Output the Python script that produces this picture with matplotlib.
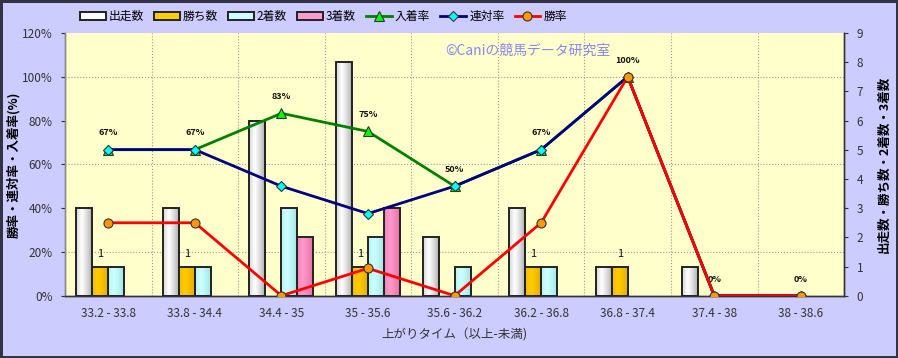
"""上がりタイム別の成績 (出走数・着数の棒グラフと勝率・連対率・入着率の折れ線)
"""
import numpy as np
import matplotlib
matplotlib.use('Agg')
import matplotlib.pyplot as plt
import matplotlib.patches as mpatches
from matplotlib.colors import to_rgb

plt.rcParams['font.family'] = ['Noto Sans CJK JP', 'DejaVu Sans']

categories = ['33.2 - 33.8', '33.8 - 34.4', '34.4 - 35', '35 - 35.6', '35.6 - 36.2',
              '36.2 - 36.8', '36.8 - 37.4', '37.4 - 38', '38 - 38.6']
runs = [3, 3, 6, 8, 2, 3, 1, 1, 0]
wins = [1, 1, 0, 1, 0, 1, 1, 0, 0]
seconds = [1, 1, 3, 2, 1, 1, 0, 0, 0]
thirds = [0, 0, 2, 3, 0, 0, 0, 0, 0]
win_rate = [33.3, 33.3, 0, 12.5, 0, 33.3, 100, 0, 0]
rentai_rate = [66.7, 66.7, 50, 37.5, 50, 66.7, 100, 0, 0]
place_rate = [66.7, 66.7, 83.3, 75, 50, 66.7, 100, 0, 0]
place_labels = ['67%', '67%', '83%', '75%', '50%', '67%', '100%', '0%', '0%']

BG = '#CCCCFF'
PLOT_BG = '#FFFFCC'


def gradient_bar(ax, bar, c_edge, c_mid):
    # 円柱風のグラデーション
    x, y = bar.get_xy()
    w, h = bar.get_width(), bar.get_height()
    if h <= 0:
        bar.set_linewidth(0)
        return
    t = np.linspace(0, 1, 64)
    prof = np.clip(1 - np.abs(t - 0.35) / 0.65, 0, 1) ** 0.7
    e = np.array(to_rgb(c_edge))
    m = np.array(to_rgb(c_mid))
    cols = e + (m - e) * prof[:, None]
    im = ax.imshow(cols[None, :, :], extent=(x, x + w, y, y + h), aspect='auto',
                   interpolation='bilinear', zorder=2)
    im.set_clip_path(bar)


fig = plt.figure(figsize=(8.98, 3.58), dpi=100)
fig.patch.set_facecolor(BG)
fig.patch.set_edgecolor('#333344')
fig.patch.set_linewidth(2.5)

ax = fig.add_axes([0.0724, 0.174, 0.8676, 0.734])
ax.set_facecolor(PLOT_BG)
ax2 = ax.twinx()

x = np.arange(len(categories))
bw = 0.185
series = [
    ('出走数', runs, '#999999', '#FFFFFF', -1.5),
    ('勝ち数', wins, '#D9A400', '#FFCC00', -0.5),
    ('2着数', seconds, '#99DDDD', '#CCFFFF', 0.5),
    ('3着数', thirds, '#DD6699', '#FF99CC', 1.5),
]
handles = []
for name, vals, ce, cm, off in series:
    bars = ax.bar(x + off * bw, vals, bw, color='none', edgecolor='#222222',
                  linewidth=1.4, zorder=3)
    for b in bars:
        gradient_bar(ax, b, ce, cm)
    handles.append(mpatches.Patch(facecolor=cm, edgecolor='#222222', linewidth=1.4,
                                  label=name))

# 勝ち数のラベル
for xi, v in zip(x, wins):
    if v > 0:
        ax.annotate(str(v), (xi - 0.5 * bw, v), xytext=(0, 9), textcoords='offset points',
                    ha='center', va='center', fontsize=8, color='#111111')

ax.set_xlim(-0.5, len(categories) - 0.5)
ax.set_ylim(0, 9)
ax.yaxis.tick_right()
ax.yaxis.set_label_position('right')
ax.set_yticks(range(10))
ax.set_yticks(np.arange(0, 9.1, 1.5), minor=True)
ax.set_xticks(x)
ax.set_xticklabels(categories)
ax.set_xticks(np.arange(0.5, len(categories) - 0.5, 1), minor=True)
ax.grid(which='minor', ls=':', color='#999999', lw=0.8, zorder=0)
ax.tick_params(axis='x', which='both', length=0, labelsize=8.5, colors='#333333', pad=8)
ax.tick_params(axis='y', which='minor', length=0)
ax.tick_params(axis='y', which='major', length=3, direction='out', labelsize=8.5,
               colors='#333333', pad=6)
ax.set_ylabel('出走数・勝ち数・2着数・3着数', fontsize=9, fontweight='bold', labelpad=10,
              rotation=90)
ax.set_xlabel('上がりタイム（以上-未満)', fontsize=9, color='#333333', labelpad=6)

# 折れ線
lines_spec = [
    ('入着率', place_rate, '#008000', '^', '#00FF00', 7),
    ('連対率', rentai_rate, '#000080', 'D', '#00FFFF', 5),
    ('勝率', win_rate, '#FF0000', 'o', '#FF9900', 6.5),
]
for name, vals, lc, mk, mc, ms in lines_spec:
    ln, = ax2.plot(x, vals, color=lc, lw=2, marker=mk, markersize=ms,
                   markerfacecolor=mc, markeredgecolor='#333333', markeredgewidth=0.8,
                   label=name, zorder=4)
    handles.append(ln)

for xi, v, lab in zip(x, place_rate, place_labels):
    ax2.annotate(lab, (xi, v), xytext=(0, 12), textcoords='offset points',
                 ha='center', va='center', fontsize=6.5, fontweight='bold', color='#111111')

ax2.yaxis.tick_left()
ax2.yaxis.set_label_position('left')
ax2.set_ylim(0, 120)
ax2.set_yticks(range(0, 121, 20))
ax2.set_yticklabels([f'{v}%' for v in range(0, 121, 20)])
ax2.tick_params(axis='y', length=3, direction='out', labelsize=8.5, colors='#333333', pad=6)
ax2.set_ylabel('勝率・連対率・入着率(%)', fontsize=9, fontweight='bold')
ax2.yaxis.set_label_coords(-0.058, 0.5)

for a in (ax, ax2):
    for s in a.spines.values():
        s.set_color('#333333')
        s.set_linewidth(1)
    a.spines['top'].set_visible(False)
ax.spines['left'].set_color('#888888')
ax2.spines['left'].set_color('#888888')

ax.text(0.488, 0.931, '©Caniの競馬データ研究室', transform=ax.transAxes, fontsize=10,
        color='#8888EE', ha='left', va='center', zorder=6)

fig.legend(handles=handles, loc='center', bbox_to_anchor=(0.36, 0.953), ncol=7,
           frameon=False, fontsize=8.5, handlelength=2.2, handletextpad=0.25,
           columnspacing=0.85, numpoints=1)

fig.savefig('out.png', dpi=100, facecolor=BG, edgecolor=fig.patch.get_edgecolor())
